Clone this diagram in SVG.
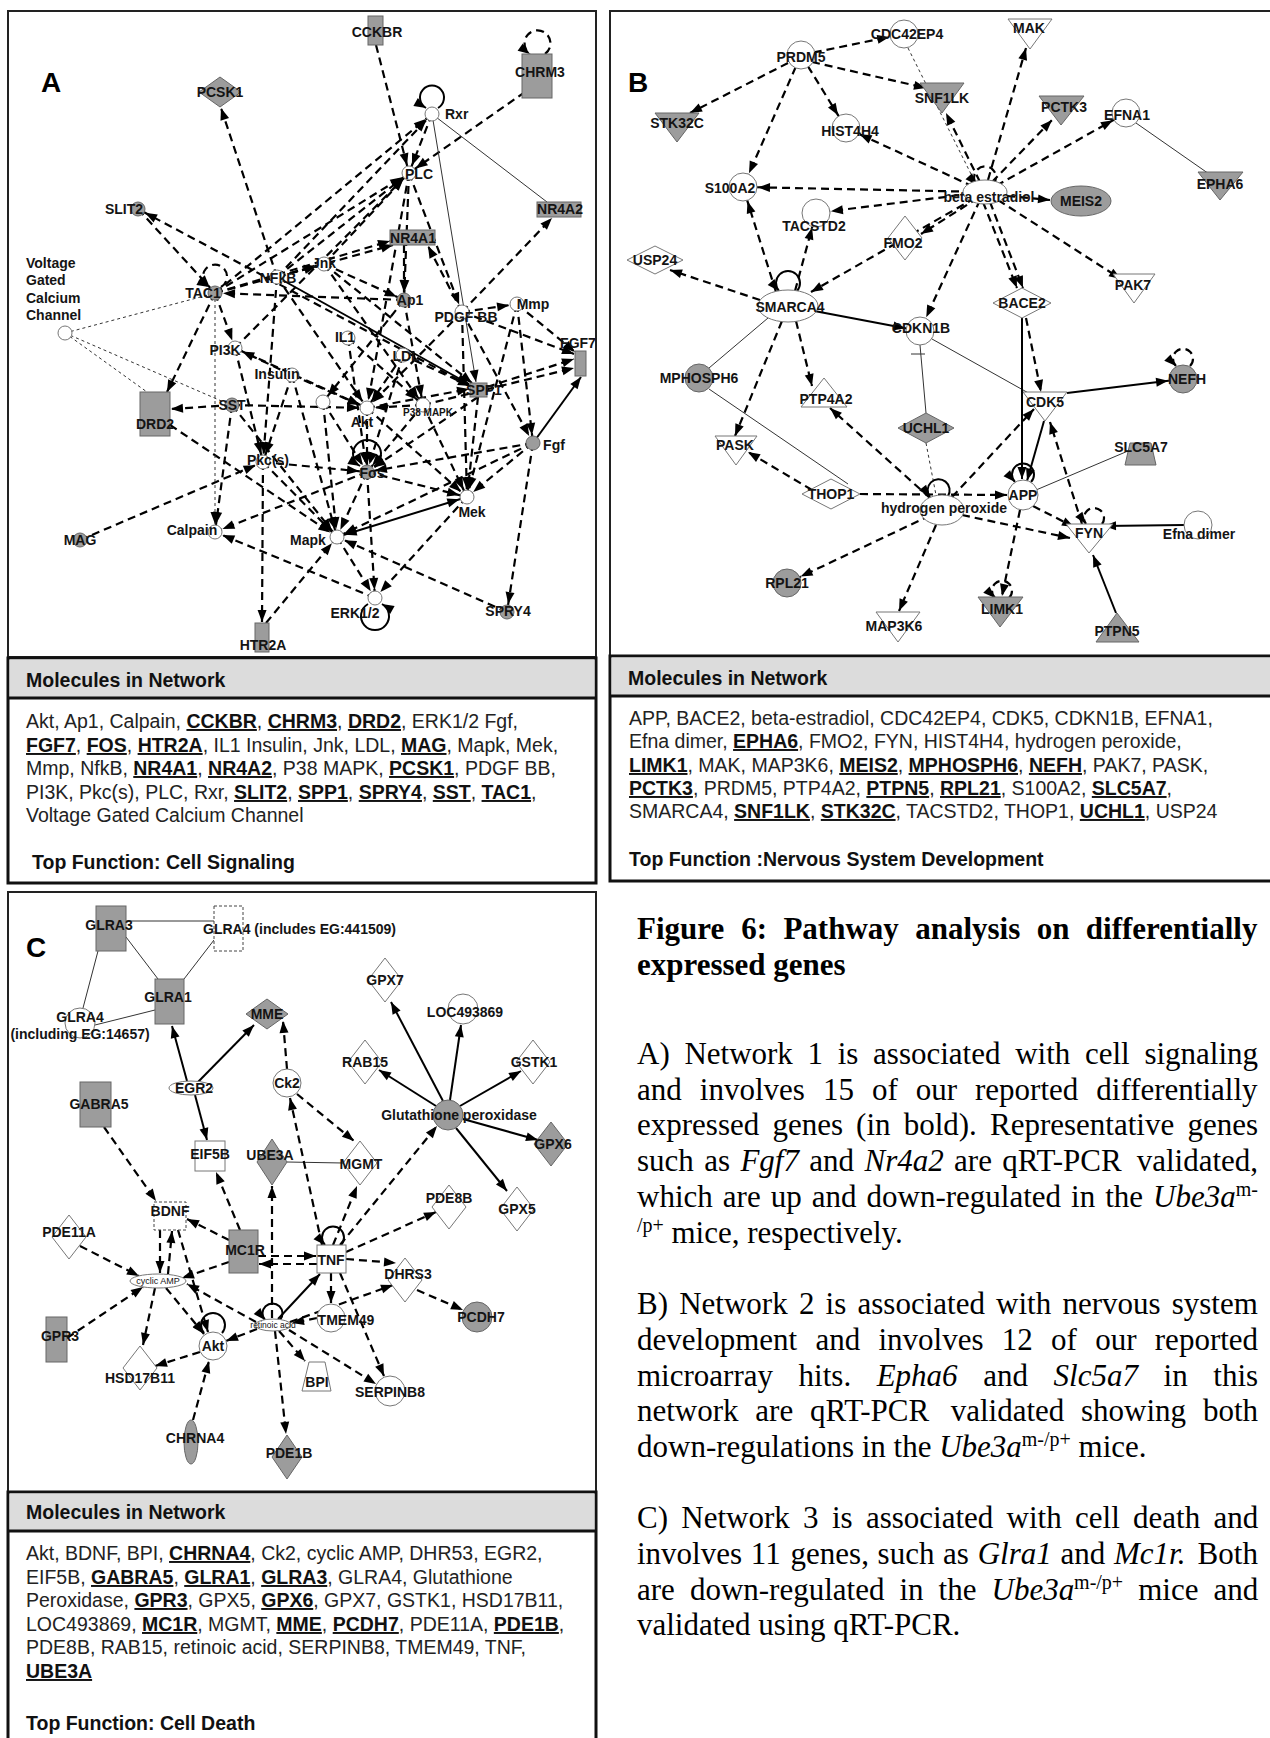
<svg xmlns="http://www.w3.org/2000/svg" width="1270" height="1738" viewBox="0 0 1270 1738">
<style>
.d{fill:none;stroke:#000;stroke-width:2.2;stroke-dasharray:8 5}
.s{fill:none;stroke:#000;stroke-width:2}
.t{fill:none;stroke:#333;stroke-width:1}
.q{fill:none;stroke:#333;stroke-width:1;stroke-dasharray:3 3}
.e1{marker-end:url(#a1)}
.e8{marker-end:url(#a8)}
.e15{marker-end:url(#a15)}
.b8{marker-start:url(#b8)}
.g{fill:#9c9c9c;stroke:#666;stroke-width:1}
.w{fill:#fff;stroke:#777;stroke-width:1}
.wd{fill:#fff;stroke:#444;stroke-width:1;stroke-dasharray:3 2}
.lb{font-family:"Liberation Sans",Arial,sans-serif;font-weight:bold;font-size:14px;fill:#141414;text-anchor:middle}
.ls{text-anchor:start}
.sm{font-size:9px;font-weight:normal}
.pl{font-family:"Liberation Sans",Arial,sans-serif;font-weight:bold;font-size:28px;fill:#000;text-anchor:middle}
.bx{font-family:"Liberation Sans",Arial,sans-serif;font-size:19.5px;fill:#222}
.bb{font-weight:bold;text-decoration:underline;fill:#111}
.hd{font-weight:bold;fill:#111}
.cap{font-family:"Liberation Serif","Times New Roman",serif;font-size:31px;fill:#000}
.sup{font-size:20px}
.it{font-style:italic}
.fr{fill:none;stroke:#222;stroke-width:2}
.fb{fill:#fff;stroke:#111;stroke-width:3}
.hg{fill:#dcdcdc;stroke:none}
</style>
<defs>
<marker id="a1" markerUnits="userSpaceOnUse" markerWidth="12" markerHeight="10" refX="12" refY="4.5" orient="auto" overflow="visible"><path d="M0,0 L12,4.5 L0,9 z" fill="#000"/></marker>
<marker id="a8" markerUnits="userSpaceOnUse" markerWidth="12" markerHeight="10" refX="20" refY="4.5" orient="auto" overflow="visible"><path d="M0,0 L12,4.5 L0,9 z" fill="#000"/></marker>
<marker id="a15" markerUnits="userSpaceOnUse" markerWidth="12" markerHeight="10" refX="27" refY="4.5" orient="auto" overflow="visible"><path d="M0,0 L12,4.5 L0,9 z" fill="#000"/></marker>
<marker id="b8" markerUnits="userSpaceOnUse" markerWidth="12" markerHeight="10" refX="20" refY="4.5" orient="auto-start-reverse" overflow="visible"><path d="M0,0 L12,4.5 L0,9 z" fill="#000"/></marker>
</defs>
<rect width="1270" height="1738" fill="#fff"/>

<g id="frames">
<rect class="fr" x="8" y="11" width="588" height="646"/>
<rect class="fr" x="610" y="11" width="680" height="645"/>
<rect class="fr" x="8" y="892" width="588" height="600"/>
</g>

<!-- ===== Panel A connectors ===== -->
<g id="connectors-A">
<line class="d e8" x1="376" y1="45" x2="409" y2="173"/>
<line class="d e8" x1="525" y1="92" x2="409" y2="173"/>
<line class="d e8" x1="215" y1="293" x2="432" y2="114"/>
<line class="d e8" x1="277" y1="277" x2="432" y2="114"/>
<line class="d e8" x1="432" y1="114" x2="409" y2="173"/>
<line class="d e8" x1="215" y1="293" x2="409" y2="173"/>
<line class="d e8" x1="277" y1="277" x2="409" y2="173"/>
<line class="d e8" x1="235" y1="348" x2="409" y2="173"/>
<line class="d e8" x1="324" y1="264" x2="409" y2="173"/>
<line class="d e8" x1="409" y1="173" x2="462" y2="312"/>
<line class="d e8" x1="409" y1="173" x2="404" y2="300"/>
<line class="d e8" x1="470" y1="386" x2="138" y2="209"/>
<line class="d e8" x1="138" y1="209" x2="215" y2="293"/>
<line class="d e8" x1="404" y1="245" x2="404" y2="300"/>
<line class="d e8" x1="324" y1="264" x2="404" y2="300"/>
<line class="d e8" x1="215" y1="293" x2="324" y2="264"/>
<line class="d e8" x1="277" y1="277" x2="324" y2="264"/>
<line class="d e8" x1="404" y1="300" x2="215" y2="293"/>
<line class="d e8" x1="215" y1="293" x2="235" y2="348"/>
<line class="d e8" x1="292" y1="375" x2="235" y2="348"/>
<line class="d e8" x1="232" y1="405" x2="367" y2="408"/>
<line class="d e8" x1="292" y1="375" x2="367" y2="408"/>
<line class="d e8" x1="235" y1="348" x2="367" y2="408"/>
<line class="d e8" x1="423" y1="405" x2="367" y2="408"/>
<line class="d e8" x1="403" y1="355" x2="367" y2="408"/>
<line class="d e8" x1="348" y1="338" x2="423" y2="405"/>
<line class="d e8" x1="462" y1="312" x2="533" y2="443"/>
<line class="d e8" x1="517" y1="304" x2="533" y2="443"/>
<line class="d e8" x1="533" y1="443" x2="367" y2="472"/>
<line class="d e8" x1="533" y1="443" x2="467" y2="497"/>
<line class="d e8" x1="533" y1="443" x2="337" y2="537"/>
<line class="d e8" x1="533" y1="443" x2="507" y2="612"/>
<line class="d e8" x1="478" y1="397" x2="467" y2="497"/>
<line class="d e8" x1="462" y1="312" x2="467" y2="497"/>
<line class="d e8" x1="367" y1="408" x2="367" y2="472"/>
<line class="d e8" x1="423" y1="405" x2="367" y2="472"/>
<line class="d e8" x1="323" y1="402" x2="367" y2="472"/>
<line class="d e8" x1="403" y1="355" x2="367" y2="472"/>
<line class="d e8" x1="263" y1="462" x2="367" y2="472"/>
<line class="d e8" x1="367" y1="472" x2="467" y2="497"/>
<line class="d e8" x1="367" y1="472" x2="337" y2="537"/>
<line class="d e8" x1="367" y1="472" x2="375" y2="598"/>
<line class="d e8" x1="367" y1="472" x2="215" y2="532"/>
<line class="d e8" x1="467" y1="497" x2="375" y2="598"/>
<line class="d e8" x1="337" y1="537" x2="375" y2="598"/>
<line class="d e8" x1="375" y1="598" x2="215" y2="532"/>
<line class="d e8" x1="507" y1="612" x2="337" y2="537"/>
<line class="d e8" x1="266" y1="623" x2="337" y2="537"/>
<line class="d e8" x1="80" y1="540" x2="263" y2="462"/>
<line class="d e8" x1="263" y1="462" x2="337" y2="537"/>
<line class="d e8" x1="292" y1="375" x2="263" y2="462"/>
<line class="d e8" x1="235" y1="348" x2="263" y2="462"/>
<line class="d e8" x1="462" y1="312" x2="517" y2="304"/>
<line class="d e8" x1="324" y1="264" x2="423" y2="405"/>
<line class="d e8" x1="348" y1="338" x2="367" y2="472"/>
<line class="d e8" x1="423" y1="405" x2="467" y2="497"/>
<line class="d e8" x1="367" y1="408" x2="467" y2="497"/>
<line class="d e8" x1="323" y1="402" x2="337" y2="537"/>
<line class="d e8" x1="232" y1="405" x2="215" y2="532"/>
<line class="d e8" x1="277" y1="277" x2="367" y2="408"/>
<line class="d e8" x1="409" y1="173" x2="367" y2="408"/>
<line class="d e8" x1="462" y1="312" x2="367" y2="408"/>
<line class="d e8" x1="292" y1="375" x2="337" y2="537"/>
<line class="d e8" x1="478" y1="397" x2="367" y2="472"/>
<line class="d e8" x1="517" y1="304" x2="467" y2="497"/>
<line class="d e8" x1="404" y1="300" x2="423" y2="405"/>
<line class="d e8" x1="277" y1="277" x2="263" y2="462"/>
<line class="d e8" x1="404" y1="300" x2="323" y2="402"/>
<line class="d e8" x1="170" y1="425" x2="337" y2="537"/>
<line class="d e8" x1="232" y1="405" x2="337" y2="537"/>
<line class="d e1" x1="277" y1="277" x2="221" y2="108"/>
<line class="d e1" x1="215" y1="293" x2="390" y2="241"/>
<line class="d e1" x1="277" y1="277" x2="393" y2="245"/>
<line class="d e1" x1="462" y1="312" x2="552" y2="218"/>
<line class="d e1" x1="462" y1="312" x2="428" y2="246"/>
<line class="d e1" x1="215" y1="293" x2="167" y2="392"/>
<line class="d e1" x1="232" y1="405" x2="171" y2="409"/>
<line class="d e1" x1="367" y1="408" x2="469" y2="389"/>
<line class="d e1" x1="324" y1="264" x2="472" y2="383"/>
<line class="d e1" x1="403" y1="355" x2="470" y2="386"/>
<line class="d e1" x1="487" y1="387" x2="574" y2="359"/>
<line class="d e1" x1="462" y1="312" x2="574" y2="354"/>
<line class="d e1" x1="517" y1="304" x2="575" y2="352"/>
<line class="d e1" x1="423" y1="405" x2="574" y2="368"/>
<line class="d e1" x1="263" y1="462" x2="262" y2="622"/>
<line class="q e8" x1="215" y1="293" x2="215" y2="532"/>
<line class="t" x1="432" y1="114" x2="547" y2="202"/>
<line class="t e1" x1="432" y1="114" x2="476" y2="382"/>
<line class="s e1" x1="277" y1="277" x2="469" y2="384"/>
<line class="s e1" x1="533" y1="443" x2="581" y2="377"/>
<line class="s e8 b8" x1="337" y1="537" x2="467" y2="497"/>
<line class="q" x1="65" y1="333" x2="208" y2="295"/>
<line class="q" x1="65" y1="333" x2="147" y2="392"/>
<line class="q" x1="65" y1="333" x2="226" y2="403"/>
<path class="d e1" d="M545,54 A13 13 0 1 0 530,54"/>
<path class="s e1" d="M438,108 A12 12 0 1 0 426,108"/>
<path class="d e1" d="M221,287 A12 12 0 1 0 209,287"/>
<path class="s e1" d="M374,466 A14 14 0 1 0 360,466"/>
<path class="s e1" d="M368,604 A14 14 0 1 0 382,604"/>
</g>

<!-- ===== Panel A nodes ===== -->
<g id="nodes-A">
<text class="pl" x="51" y="92">A</text>
<g id="A-CCKBR"><rect class="g" x="368" y="16" width="15" height="29"/><text class="lb" x="377" y="37">CCKBR</text></g>
<g id="A-CHRM3"><rect class="g" x="522" y="54" width="30" height="44"/><text class="lb" x="540" y="77">CHRM3</text></g>
<g id="A-PCSK1"><polygon class="g" points="220,77 241,92 220,107 199,92"/><text class="lb" x="220" y="97">PCSK1</text></g>
<g id="A-Rxr"><circle class="w" cx="432" cy="114" r="7"/><text class="lb ls" x="445" y="119">Rxr</text></g>
<g id="A-PLC"><circle class="w" cx="409" cy="173" r="7"/><text class="lb" x="419" y="179">PLC</text></g>
<g id="A-SLIT2"><circle class="g" cx="138" cy="209" r="7"/><text class="lb" x="124" y="214">SLIT2</text></g>
<g id="A-NR4A2"><rect class="g" x="537" y="202" width="44" height="15"/><text class="lb" x="560" y="214">NR4A2</text></g>
<g id="A-NR4A1"><rect class="g" x="390" y="230" width="45" height="15"/><text class="lb" x="413" y="243">NR4A1</text></g>
<g id="A-Jnk"><circle class="w" cx="324" cy="264" r="7"/><text class="lb" x="324" y="268">Jnk</text></g>
<g id="A-NfkB"><circle class="w" cx="277" cy="277" r="7"/><text class="lb" x="278" y="283">NFkB</text></g>
<g id="A-TAC1"><circle class="g" cx="215" cy="293" r="7"/><text class="lb" x="203" y="298">TAC1</text></g>
<g id="A-Ap1"><circle class="g" cx="404" cy="300" r="7"/><text class="lb" x="410" y="305">Ap1</text></g>
<g id="A-PDGFBB"><circle class="w" cx="462" cy="312" r="7"/><text class="lb" x="466" y="322">PDGF BB</text></g>
<g id="A-Mmp"><circle class="w" cx="517" cy="304" r="7"/><text class="lb" x="533" y="309">Mmp</text></g>
<g id="A-VGCC"><circle class="w" cx="65" cy="333" r="7"/><text class="lb ls" x="26" y="268">Voltage</text><text class="lb ls" x="26" y="285">Gated</text><text class="lb ls" x="26" y="303">Calcium</text><text class="lb ls" x="26" y="320">Channel</text></g>
<g id="A-FGF7"><rect class="g" x="575" y="351" width="11" height="25"/><text class="lb" x="578" y="348">FGF7</text></g>
<g id="A-PI3K"><circle class="w" cx="235" cy="348" r="7"/><text class="lb" x="225" y="355">PI3K</text></g>
<g id="A-IL1"><circle class="w" cx="348" cy="338" r="7"/><text class="lb" x="345" y="342">IL1</text></g>
<g id="A-LDL"><circle class="w" cx="403" cy="355" r="7"/><text class="lb" x="406" y="361">LDL</text></g>
<g id="A-Insulin"><circle class="w" cx="292" cy="375" r="7"/><text class="lb" x="277" y="379">Insulin</text></g>
<g id="A-SPP1"><rect class="g" x="470" y="383" width="17" height="14"/><text class="lb" x="484" y="395">SPP1</text></g>
<g id="A-DRD2"><rect class="g" x="140" y="392" width="30" height="44"/><text class="lb" x="155" y="429">DRD2</text></g>
<g id="A-SST"><circle class="g" cx="232" cy="405" r="7"/><text class="lb" x="232" y="410">SST</text></g>
<g id="A-node"><circle class="w" cx="323" cy="402" r="7"/></g>
<g id="A-Akt"><circle class="w" cx="367" cy="408" r="7"/><text class="lb" x="362" y="427">Akt</text></g>
<g id="A-P38MAPK"><circle class="w" cx="423" cy="405" r="7"/><text class="lb" x="428" y="416" style="font-size:10px">P38 MAPK</text></g>
<g id="A-Fgf"><circle class="g" cx="533" cy="443" r="7"/><text class="lb" x="554" y="450">Fgf</text></g>
<g id="A-Pkcs"><circle class="w" cx="263" cy="462" r="7"/><text class="lb" x="268" y="465">Pkc(s)</text></g>
<g id="A-Fos"><circle class="g" cx="367" cy="472" r="7"/><text class="lb" x="372" y="478">Fos</text></g>
<g id="A-Mek"><circle class="w" cx="467" cy="497" r="7"/><text class="lb" x="472" y="517">Mek</text></g>
<g id="A-MAG"><circle class="g" cx="80" cy="540" r="7"/><text class="lb" x="80" y="545">MAG</text></g>
<g id="A-Calpain"><circle class="w" cx="215" cy="532" r="7"/><text class="lb" x="192" y="535">Calpain</text></g>
<g id="A-Mapk"><circle class="w" cx="337" cy="537" r="7"/><text class="lb" x="308" y="545">Mapk</text></g>
<g id="A-ERK12"><circle class="w" cx="375" cy="598" r="7"/><text class="lb" x="355" y="618">ERK1/2</text></g>
<g id="A-SPRY4"><circle class="g" cx="507" cy="612" r="7"/><text class="lb" x="508" y="616">SPRY4</text></g>
<g id="A-HTR2A"><rect class="g" x="255" y="623" width="14" height="29"/><text class="lb" x="263" y="650">HTR2A</text></g>
</g>

<!-- ===== Panel B connectors ===== -->
<g id="connectors-B">
<line class="d e15" x1="801" y1="55" x2="904" y2="34"/>
<line class="d e1" x1="812" y1="62" x2="926" y2="88"/>
<line class="d e1" x1="788" y1="63" x2="690" y2="113"/>
<line class="d e15" x1="801" y1="55" x2="846" y2="128"/>
<line class="d e15" x1="801" y1="55" x2="743" y2="187"/>
<line class="q" x1="908" y1="48" x2="975" y2="182"/>
<line class="d e1" x1="988" y1="180" x2="1026" y2="48"/>
<line class="d e1" x1="980" y1="182" x2="946" y2="113"/>
<line class="d e1" x1="992" y1="182" x2="1052" y2="120"/>
<line class="d e15" x1="985" y1="192" x2="1126" y2="113"/>
<line class="t" x1="1136" y1="123" x2="1212" y2="176"/>
<line class="d e15" x1="985" y1="192" x2="846" y2="128"/>
<line class="d e15" x1="985" y1="192" x2="743" y2="187"/>
<line class="d e15" x1="985" y1="192" x2="816" y2="213"/>
<line class="d e1" x1="978" y1="198" x2="921" y2="234"/>
<line class="d e1" x1="1007" y1="196" x2="1050" y2="200"/>
<line class="d e1" x1="998" y1="200" x2="1121" y2="279"/>
<line class="d e1" x1="983" y1="202" x2="1017" y2="288"/>
<line class="d e1" x1="990" y1="202" x2="1023" y2="288"/>
<line class="d e15" x1="980" y1="200" x2="920" y2="331"/>
<line class="d e1" x1="975" y1="198" x2="811" y2="292"/>
<line class="d e15" x1="776" y1="292" x2="743" y2="187"/>
<line class="d e15" x1="795" y1="291" x2="816" y2="213"/>
<line class="d e1" x1="760" y1="300" x2="670" y2="270"/>
<line class="d e1" x1="782" y1="321" x2="735" y2="436"/>
<line class="d e1" x1="796" y1="321" x2="812" y2="386"/>
<line class="d e1" x1="1026" y1="318" x2="1041" y2="392"/>
<line class="d e1" x1="952" y1="497" x2="1034" y2="409"/>
<line class="d e1" x1="1082" y1="524" x2="1050" y2="422"/>
<line class="d e1" x1="812" y1="490" x2="748" y2="452"/>
<line class="d e1" x1="930" y1="498" x2="830" y2="408"/>
<line class="q" x1="926" y1="443" x2="936" y2="495"/>
<line class="d e1" x1="860" y1="494" x2="1007" y2="495"/>
<line class="d e15" x1="942" y1="510" x2="787" y2="583"/>
<line class="d e1" x1="936" y1="525" x2="899" y2="611"/>
<line class="d e1" x1="962" y1="515" x2="1070" y2="538"/>
<line class="d e1" x1="1033" y1="506" x2="1074" y2="527"/>
<line class="d e1" x1="1020" y1="510" x2="1002" y2="596"/>
<line class="s e15" x1="788" y1="306" x2="920" y2="331"/>
<line class="t" x1="768" y1="318" x2="709" y2="368"/>
<line class="t" x1="920" y1="345" x2="926" y2="413"/>
<line class="t" x1="911" y1="354" x2="925" y2="354"/>
<line class="t" x1="932" y1="339" x2="1032" y2="395"/>
<line class="s e1" x1="1022" y1="318" x2="1022" y2="479"/>
<line class="s e15" x1="1067" y1="393" x2="1183" y2="379"/>
<line class="s e15" x1="1044" y1="421" x2="1023" y2="495"/>
<line class="t" x1="709" y1="389" x2="848" y2="484"/>
<line class="t" x1="1036" y1="490" x2="1128" y2="451"/>
<line class="s e1" x1="1184" y1="525" x2="1104" y2="526"/>
<line class="s e1" x1="1116" y1="613" x2="1093" y2="555"/>
<path class="d e1" d="M993,185 A11 11 0 1 0 977,185"/>
<path class="s e1" d="M797,291 A12 12 0 1 0 779,291"/>
<path class="d e1" d="M1190,366 A10 10 0 1 0 1176,366"/>
<path class="s e1" d="M948,496 A11 11 0 1 0 930,497"/>
<path class="s e1" d="M1031,482 A11 11 0 1 0 1015,482"/>
<path class="d e1" d="M1102,524 A10 10 0 1 0 1086,524"/>
<path class="d e1" d="M1009,598 A10 10 0 1 0 995,598"/>
</g>

<!-- ===== Panel B nodes ===== -->
<g id="nodes-B">
<text class="pl" x="638" y="92">B</text>
<g id="B-PRDM5"><circle class="w" cx="801" cy="55" r="14"/><text class="lb" x="801" y="62">PRDM5</text></g>
<g id="B-CDC42EP4"><circle class="w" cx="904" cy="34" r="14"/><text class="lb" x="907" y="39">CDC42EP4</text></g>
<g id="B-MAK"><polygon class="w" points="1008,19 1052,19 1030,49"/><text class="lb" x="1029" y="33">MAK</text></g>
<g id="B-SNF1LK"><polygon class="g" points="920,83 964,83 942,113"/><text class="lb" x="942" y="103">SNF1LK</text></g>
<g id="B-PCTK3"><polygon class="g" points="1039,96 1084,96 1061,125"/><text class="lb" x="1064" y="112">PCTK3</text></g>
<g id="B-EFNA1"><circle class="w" cx="1126" cy="113" r="14"/><text class="lb" x="1127" y="120">EFNA1</text></g>
<g id="B-EPHA6"><polygon class="g" points="1198,172 1243,172 1220,200"/><text class="lb" x="1220" y="189">EPHA6</text></g>
<g id="B-STK32C"><polygon class="g" points="655,113 699,113 677,142"/><text class="lb" x="677" y="128">STK32C</text></g>
<g id="B-HIST4H4"><circle class="w" cx="846" cy="128" r="14"/><text class="lb" x="850" y="136">HIST4H4</text></g>
<g id="B-S100A2"><circle class="w" cx="743" cy="187" r="14"/><text class="lb" x="730" y="193">S100A2</text></g>
<g id="B-betaestradiol"><ellipse class="w" cx="985" cy="192" rx="22" ry="12"/><text class="lb" x="989" y="202">beta estradiol</text></g>
<g id="B-MEIS2"><ellipse class="g" cx="1081" cy="201" rx="30" ry="15"/><text class="lb" x="1081" y="206">MEIS2</text></g>
<g id="B-TACSTD2"><circle class="w" cx="816" cy="213" r="14"/><text class="lb" x="814" y="231">TACSTD2</text></g>
<g id="B-FMO2"><polygon class="w" points="905,216 922,238 905,260 888,238"/><text class="lb" x="903" y="248">FMO2</text></g>
<g id="B-USP24"><polygon class="w" points="655,246 683,260 655,274 627,260"/><text class="lb" x="655" y="265">USP24</text></g>
<g id="B-PAK7"><polygon class="w" points="1113,274 1155,274 1134,303"/><text class="lb" x="1133" y="290">PAK7</text></g>
<g id="B-BACE2"><polygon class="w" points="1022,288 1051,303 1022,318 993,303"/><text class="lb" x="1022" y="308">BACE2</text></g>
<g id="B-SMARCA4"><ellipse class="w" cx="788" cy="306" rx="30" ry="16"/><text class="lb" x="790" y="312">SMARCA4</text></g>
<g id="B-CDKN1B"><circle class="w" cx="920" cy="331" r="14"/><text class="lb" x="921" y="333">CDKN1B</text></g>
<g id="B-MPHOSPH6"><circle class="g" cx="699" cy="378" r="14"/><text class="lb" x="699" y="383">MPHOSPH6</text></g>
<g id="B-PTP4A2"><polygon class="w" points="801,407 847,407 824,378"/><text class="lb" x="826" y="404">PTP4A2</text></g>
<g id="B-UCHL1"><polygon class="g" points="926,413 954,428 926,443 898,428"/><text class="lb" x="926" y="433">UCHL1</text></g>
<g id="B-CDK5"><polygon class="w" points="1023,392 1067,392 1045,421"/><text class="lb" x="1045" y="407">CDK5</text></g>
<g id="B-NEFH"><circle class="g" cx="1183" cy="379" r="14"/><text class="lb" x="1187" y="384">NEFH</text></g>
<g id="B-PASK"><polygon class="w" points="715,436 757,436 736,465"/><text class="lb" x="735" y="450">PASK</text></g>
<g id="B-SLC5A7"><polygon class="g" points="1130,443 1151,443 1156,465 1125,465"/><text class="lb" x="1141" y="452">SLC5A7</text></g>
<g id="B-THOP1"><polygon class="w" points="831,479 860,494 831,509 802,494"/><text class="lb" x="831" y="499">THOP1</text></g>
<g id="B-hydrogenperoxide"><ellipse class="w" cx="942" cy="510" rx="22" ry="15"/><text class="lb" x="944" y="513">hydrogen peroxide</text></g>
<g id="B-APP"><circle class="w" cx="1023" cy="495" r="15"/><text class="lb" x="1023" y="500">APP</text></g>
<g id="B-FYN"><polygon class="w" points="1066,524 1113,524 1089,553"/><text class="lb" x="1089" y="538">FYN</text></g>
<g id="B-Efnadimer"><circle class="w" cx="1198" cy="525" r="14"/><text class="lb" x="1199" y="539">Efna dimer</text></g>
<g id="B-RPL21"><circle class="g" cx="787" cy="583" r="14"/><text class="lb" x="787" y="588">RPL21</text></g>
<g id="B-MAP3K6"><polygon class="w" points="876,612 920,612 898,642"/><text class="lb" x="894" y="631">MAP3K6</text></g>
<g id="B-LIMK1"><polygon class="g" points="978,597 1023,597 1000,627"/><text class="lb" x="1002" y="614">LIMK1</text></g>
<g id="B-PTPN5"><polygon class="g" points="1096,642 1139,642 1117,613"/><text class="lb" x="1117" y="636">PTPN5</text></g>
</g>

<!-- ===== Panel C connectors ===== -->
<g id="connectors-C">
<line class="t" x1="126" y1="921" x2="214" y2="921"/>
<line class="t" x1="126" y1="937" x2="158" y2="979"/>
<line class="t" x1="214" y1="940" x2="184" y2="979"/>
<line class="t" x1="98" y1="951" x2="83" y2="1008"/>
<line class="t" x1="95" y1="1025" x2="155" y2="1010"/>
<line class="s e1" x1="187" y1="1081" x2="172" y2="1026"/>
<line class="s e1" x1="198" y1="1082" x2="254" y2="1025"/>
<line class="s e1" x1="195" y1="1095" x2="207" y2="1140"/>
<line class="d e1" x1="287" y1="1069" x2="283" y2="1021"/>
<line class="d e1" x1="297" y1="1094" x2="354" y2="1141"/>
<line class="t" x1="287" y1="1162" x2="343" y2="1163"/>
<line class="s e1" x1="443" y1="1101" x2="391" y2="1002"/>
<line class="s e1" x1="450" y1="1100" x2="461" y2="1025"/>
<line class="s e1" x1="436" y1="1106" x2="379" y2="1070"/>
<line class="s e1" x1="460" y1="1106" x2="521" y2="1071"/>
<line class="s e1" x1="463" y1="1119" x2="538" y2="1140"/>
<line class="s e1" x1="456" y1="1128" x2="507" y2="1191"/>
<line class="d e1" x1="340" y1="1245" x2="437" y2="1126"/>
<line class="d e1" x1="104" y1="1127" x2="156" y2="1201"/>
<line class="d e1" x1="240" y1="1230" x2="216" y2="1172"/>
<line class="d e1" x1="272" y1="1318" x2="272" y2="1186"/>
<line class="d e1" x1="322" y1="1245" x2="290" y2="1098"/>
<line class="d e1" x1="333" y1="1245" x2="357" y2="1186"/>
<line class="d e1" x1="346" y1="1252" x2="436" y2="1212"/>
<line class="d e1" x1="346" y1="1259" x2="396" y2="1263"/>
<line class="d e1" x1="258" y1="1256" x2="316" y2="1256"/>
<line class="d e1" x1="317" y1="1264" x2="259" y2="1264"/>
<line class="d e1" x1="229" y1="1240" x2="187" y2="1219"/>
<line class="d e1" x1="331" y1="1273" x2="331" y2="1303"/>
<line class="d e1" x1="340" y1="1273" x2="384" y2="1376"/>
<line class="s e1" x1="278" y1="1319" x2="320" y2="1274"/>
<line class="d e1" x1="417" y1="1290" x2="463" y2="1310"/>
<line class="d e1" x1="290" y1="1322" x2="393" y2="1285"/>
<line class="d e1" x1="317" y1="1318" x2="292" y2="1323"/>
<line class="d e1" x1="257" y1="1329" x2="226" y2="1341"/>
<line class="d e1" x1="279" y1="1331" x2="305" y2="1361"/>
<line class="d e1" x1="289" y1="1330" x2="376" y2="1384"/>
<line class="d e1" x1="275" y1="1331" x2="286" y2="1434"/>
<line class="d e1" x1="256" y1="1322" x2="187" y2="1284"/>
<line class="d e1" x1="80" y1="1246" x2="139" y2="1276"/>
<line class="d e1" x1="67" y1="1338" x2="143" y2="1287"/>
<line class="d e1" x1="155" y1="1288" x2="143" y2="1345"/>
<line class="d e1" x1="166" y1="1288" x2="204" y2="1334"/>
<line class="d e1" x1="160" y1="1230" x2="160" y2="1273"/>
<line class="d e1" x1="168" y1="1274" x2="172" y2="1231"/>
<line class="d e1" x1="229" y1="1262" x2="182" y2="1278"/>
<line class="d e1" x1="178" y1="1230" x2="208" y2="1332"/>
<line class="d e1" x1="200" y1="1352" x2="155" y2="1366"/>
<line class="d e1" x1="193" y1="1420" x2="209" y2="1361"/>
<path class="s e1" d="M341,1245 A11 11 0 1 0 325,1245"/>
<path class="s e1" d="M222,1333 A12 12 0 1 0 204,1333"/>
<path class="s e1" d="M280,1320 A10 10 0 1 0 265,1320"/>
</g>

<!-- ===== Panel C nodes ===== -->
<g id="nodes-C">
<text class="pl" x="36" y="957">C</text>
<g id="C-GLRA3"><rect class="g" x="96" y="906" width="30" height="45"/><text class="lb" x="109" y="930">GLRA3</text></g>
<g id="C-GLRA4a"><rect class="wd" x="214" y="906" width="29" height="45"/><text class="lb ls" x="203" y="934">GLRA4 (includes EG:441509)</text></g>
<g id="C-GLRA1"><rect class="g" x="155" y="979" width="29" height="45"/><text class="lb" x="168" y="1002">GLRA1</text></g>
<g id="C-GLRA4b"><circle class="w" cx="80" cy="1023" r="15"/><text class="lb" x="80" y="1022">GLRA4</text><text class="lb" x="80" y="1039">(including EG:14657)</text></g>
<g id="C-MME"><polygon class="g" points="267,999 288,1014 267,1029 246,1014"/><text class="lb" x="267" y="1019">MME</text></g>
<g id="C-GPX7"><polygon class="w" points="385,958 402,980 385,1002 368,980"/><text class="lb" x="385" y="985">GPX7</text></g>
<g id="C-LOC493869"><circle class="w" cx="463" cy="1009" r="15"/><text class="lb" x="465" y="1017">LOC493869</text></g>
<g id="C-RAB15"><polygon class="w" points="365,1040 382,1062 365,1084 348,1062"/><text class="lb" x="365" y="1067">RAB15</text></g>
<g id="C-GSTK1"><polygon class="w" points="533,1040 550,1062 533,1084 516,1062"/><text class="lb" x="534" y="1067">GSTK1</text></g>
<g id="C-EGR2"><ellipse class="w" cx="191" cy="1088" rx="22" ry="7"/><text class="lb" x="194" y="1093">EGR2</text></g>
<g id="C-Ck2"><circle class="w" cx="287" cy="1083" r="14"/><text class="lb" x="287" y="1088">Ck2</text></g>
<g id="C-GABRA5"><rect class="g" x="80" y="1082" width="31" height="45"/><text class="lb" x="99" y="1109">GABRA5</text></g>
<g id="C-GlutathionePeroxidase"><circle class="g" cx="448" cy="1115" r="15"/><text class="lb" x="459" y="1120">Glutathione peroxidase</text></g>
<g id="C-GPX6"><polygon class="g" points="551,1122 568,1144 551,1166 534,1144"/><text class="lb" x="553" y="1149">GPX6</text></g>
<g id="C-EIF5B"><rect class="w" x="195" y="1141" width="30" height="30"/><text class="lb" x="210" y="1159">EIF5B</text></g>
<g id="C-UBE3A"><polygon class="g" points="272,1139 287,1162 272,1185 257,1162"/><text class="lb" x="270" y="1160">UBE3A</text></g>
<g id="C-MGMT"><polygon class="w" points="360,1141 377,1163 360,1185 343,1163"/><text class="lb" x="361" y="1169">MGMT</text></g>
<g id="C-PDE8B"><polygon class="w" points="449,1185 466,1207 449,1229 432,1207"/><text class="lb" x="449" y="1203">PDE8B</text></g>
<g id="C-GPX5"><polygon class="w" points="517,1187 534,1209 517,1231 500,1209"/><text class="lb" x="517" y="1214">GPX5</text></g>
<g id="C-BDNF"><rect class="wd" x="154" y="1202" width="32" height="28"/><text class="lb" x="170" y="1216">BDNF</text></g>
<g id="C-PDE11A"><polygon class="w" points="69,1215 86,1237 69,1259 52,1237"/><text class="lb" x="69" y="1237">PDE11A</text></g>
<g id="C-MC1R"><rect class="g" x="229" y="1230" width="29" height="43"/><text class="lb" x="245" y="1255">MC1R</text></g>
<g id="C-TNF"><rect class="w" x="317" y="1245" width="29" height="28"/><text class="lb" x="331" y="1265">TNF</text></g>
<g id="C-DHRS3"><polygon class="w" points="405,1258 422,1280 405,1302 388,1280"/><text class="lb" x="408" y="1279">DHRS3</text></g>
<g id="C-cyclicAMP"><ellipse class="w" cx="158" cy="1281" rx="28" ry="7"/><text class="lb sm" x="158" y="1284">cyclic AMP</text></g>
<g id="C-PCDH7"><circle class="g" cx="477" cy="1317" r="15"/><text class="lb" x="481" y="1322">PCDH7</text></g>
<g id="C-TMEM49"><circle class="w" cx="331" cy="1318" r="14"/><text class="lb" x="346" y="1325">TMEM49</text></g>
<g id="C-retinoicacid"><ellipse class="w" cx="273" cy="1325" rx="18" ry="6"/><text class="lb sm" x="273" y="1328" style="font-size:8.5px">retinoic acid</text></g>
<g id="C-Akt"><circle class="w" cx="213" cy="1346" r="14"/><text class="lb" x="213" y="1351">Akt</text></g>
<g id="C-GPR3"><rect class="g" x="46" y="1317" width="21" height="45"/><text class="lb" x="60" y="1341">GPR3</text></g>
<g id="C-HSD17B11"><polygon class="w" points="140,1346 157,1368 140,1390 123,1368"/><text class="lb" x="140" y="1383">HSD17B11</text></g>
<g id="C-BPI"><polygon class="w" points="309,1362 325,1362 331,1391 302,1391"/><text class="lb" x="317" y="1387">BPI</text></g>
<g id="C-SERPINB8"><circle class="w" cx="390" cy="1391" r="15"/><text class="lb" x="390" y="1397">SERPINB8</text></g>
<g id="C-CHRNA4"><ellipse class="g" cx="191" cy="1442" rx="7" ry="22"/><text class="lb" x="195" y="1443">CHRNA4</text></g>
<g id="C-PDE1B"><polygon class="g" points="287,1435 302,1457 287,1479 272,1457"/><text class="lb" x="289" y="1458">PDE1B</text></g>
</g>

<!-- ===== Molecule boxes ===== -->
<g id="box-A">
<rect class="fb" x="8" y="658" width="588" height="225"/>
<rect class="hg" x="9.5" y="659.5" width="585" height="38"/>
<line x1="8" y1="698" x2="596" y2="698" stroke="#111" stroke-width="3"/>
<text class="bx hd" x="26" y="687">Molecules in Network</text>
<text class="bx" x="26" y="728">Akt, Ap1, Calpain, <tspan class="bb">CCKBR</tspan>, <tspan class="bb">CHRM3</tspan>, <tspan class="bb">DRD2</tspan>, ERK1/2 Fgf,</text>
<text class="bx" x="26" y="752"><tspan class="bb">FGF7</tspan>, <tspan class="bb">FOS</tspan>, <tspan class="bb">HTR2A</tspan>, IL1 Insulin, Jnk, LDL, <tspan class="bb">MAG</tspan>, Mapk, Mek,</text>
<text class="bx" x="26" y="775">Mmp, NfkB, <tspan class="bb">NR4A1</tspan>, <tspan class="bb">NR4A2</tspan>, P38 MAPK, <tspan class="bb">PCSK1</tspan>, PDGF BB,</text>
<text class="bx" x="26" y="799">PI3K, Pkc(s), PLC, Rxr, <tspan class="bb">SLIT2</tspan>, <tspan class="bb">SPP1</tspan>, <tspan class="bb">SPRY4</tspan>, <tspan class="bb">SST</tspan>, <tspan class="bb">TAC1</tspan>,</text>
<text class="bx" x="26" y="822">Voltage Gated Calcium Channel</text>
<text class="bx hd" x="32" y="869">Top Function: Cell Signaling</text>
</g>
<g id="box-B">
<rect class="fb" x="610" y="656" width="680" height="225"/>
<rect class="hg" x="611.5" y="657.5" width="677" height="38"/>
<line x1="610" y1="696" x2="1290" y2="696" stroke="#111" stroke-width="3"/>
<text class="bx hd" x="628" y="685">Molecules in Network</text>
<text class="bx" x="629" y="725">APP, BACE2, beta-estradiol, CDC42EP4, CDK5, CDKN1B, EFNA1,</text>
<text class="bx" x="629" y="748">Efna dimer, <tspan class="bb">EPHA6</tspan>, FMO2, FYN, HIST4H4, hydrogen peroxide,</text>
<text class="bx" x="629" y="772"><tspan class="bb">LIMK1</tspan>, MAK, MAP3K6, <tspan class="bb">MEIS2</tspan>, <tspan class="bb">MPHOSPH6</tspan>, <tspan class="bb">NEFH</tspan>, PAK7, PASK,</text>
<text class="bx" x="629" y="795"><tspan class="bb">PCTK3</tspan>, PRDM5, PTP4A2, <tspan class="bb">PTPN5</tspan>, <tspan class="bb">RPL21</tspan>, S100A2, <tspan class="bb">SLC5A7</tspan>,</text>
<text class="bx" x="629" y="818">SMARCA4, <tspan class="bb">SNF1LK</tspan>, <tspan class="bb">STK32C</tspan>, TACSTD2, THOP1, <tspan class="bb">UCHL1</tspan>, USP24</text>
<text class="bx hd" x="629" y="866">Top Function :Nervous System Development</text>
</g>
<g id="box-C">
<rect class="fb" x="8" y="1492" width="588" height="260"/>
<rect class="hg" x="9.5" y="1493.5" width="585" height="37"/>
<line x1="8" y1="1531" x2="596" y2="1531" stroke="#111" stroke-width="3"/>
<text class="bx hd" x="26" y="1519">Molecules in Network</text>
<text class="bx" x="26" y="1560">Akt, BDNF, BPI, <tspan class="bb">CHRNA4</tspan>, Ck2, cyclic AMP, DHR53, EGR2,</text>
<text class="bx" x="26" y="1584">EIF5B, <tspan class="bb">GABRA5</tspan>, <tspan class="bb">GLRA1</tspan>, <tspan class="bb">GLRA3</tspan>, GLRA4, Glutathione</text>
<text class="bx" x="26" y="1607">Peroxidase, <tspan class="bb">GPR3</tspan>, GPX5, <tspan class="bb">GPX6</tspan>, GPX7, GSTK1, HSD17B11,</text>
<text class="bx" x="26" y="1631">LOC493869, <tspan class="bb">MC1R</tspan>, MGMT, <tspan class="bb">MME</tspan>, <tspan class="bb">PCDH7</tspan>, PDE11A, <tspan class="bb">PDE1B</tspan>,</text>
<text class="bx" x="26" y="1654">PDE8B, RAB15, retinoic acid, SERPINB8, TMEM49, TNF,</text>
<text class="bx" x="26" y="1678"><tspan class="bb">UBE3A</tspan></text>
<text class="bx hd" x="26" y="1730">Top Function: Cell Death</text>
</g>

<!-- ===== Caption ===== -->
<g id="caption">
<text class="cap" y="939" font-weight="bold"><tspan x="637">Figure</tspan><tspan x="741.2">6:</tspan><tspan x="783.4">Pathway</tspan><tspan x="915.2">analysis</tspan><tspan x="1036.7">on</tspan><tspan x="1085.8">differentially</tspan></text>
<text class="cap" x="637" y="975" font-weight="bold">expressed genes</text>

<text class="cap" y="1064"><tspan x="637">A)</tspan><tspan x="684.4">Network</tspan><tspan x="807.5">1</tspan><tspan x="837.7">is</tspan><tspan x="873.1">associated</tspan><tspan x="1015.2">with</tspan><tspan x="1084.9">cell</tspan><tspan x="1144.4">signaling</tspan></text>
<text class="cap" y="1100"><tspan x="637">and</tspan><tspan x="699.8">involves</tspan><tspan x="822.9">15</tspan><tspan x="871.9">of</tspan><tspan x="915.7">our</tspan><tspan x="975">reported</tspan><tspan x="1096.3">differentially</tspan></text>
<text class="cap" y="1135"><tspan x="637">expressed</tspan><tspan x="772.4">genes</tspan><tspan x="856.1">(in</tspan><tspan x="903.7">bold).</tspan><tspan x="990">Representative</tspan><tspan x="1187.4">genes</tspan></text>
<text class="cap" y="1171"><tspan x="637">such</tspan><tspan x="704.2">as</tspan><tspan x="740.4" class="it">Fgf7</tspan><tspan x="809.3">and</tspan><tspan x="864.5" class="it">Nr4a2</tspan><tspan x="954.1">are</tspan><tspan x="1002.3">qRT-PCR</tspan><tspan x="1136.7">validated,</tspan></text>
<text class="cap" y="1207"><tspan x="637">which</tspan><tspan x="722.8">are</tspan><tspan x="770.7">up</tspan><tspan x="811.7">and</tspan><tspan x="866.5">down-regulated</tspan><tspan x="1071.1">in</tspan><tspan x="1105.2">the</tspan><tspan x="1153.1" class="it">Ube3a</tspan></text>
<text class="cap sup" x="1235.7" y="1196">m-</text>
<text class="cap sup" x="637" y="1232">/p+</text>
<text class="cap" x="671.5" y="1243">mice, respectively.</text>

<text class="cap" y="1314"><tspan x="637">B)</tspan><tspan x="679.2">Network</tspan><tspan x="798.9">2</tspan><tspan x="825.6">is</tspan><tspan x="857.5">associated</tspan><tspan x="996.1">with</tspan><tspan x="1062.4">nervous</tspan><tspan x="1171.7">system</tspan></text>
<text class="cap" y="1350"><tspan x="637">development</tspan><tspan x="815.4">and</tspan><tspan x="878.5">involves</tspan><tspan x="1001.8">12</tspan><tspan x="1051.1">of</tspan><tspan x="1095.2">our</tspan><tspan x="1154.8">reported</tspan></text>
<text class="cap" y="1386"><tspan x="637">microarray</tspan><tspan x="798.6">hits.</tspan><tspan x="876.7" class="it">Epha6</tspan><tspan x="983.2">and</tspan><tspan x="1053.6" class="it">Slc5a7</tspan><tspan x="1163.6">in</tspan><tspan x="1213.3">this</tspan></text>
<text class="cap" y="1421"><tspan x="637">network</tspan><tspan x="755.3">are</tspan><tspan x="809.9">qRT-PCR</tspan><tspan x="950.7">validated</tspan><tspan x="1081">showing</tspan><tspan x="1202.9">both</tspan></text>
<text class="cap" y="1457"><tspan x="637">down-regulations</tspan><tspan x="861.7">in</tspan><tspan x="893.6">the</tspan><tspan x="939.2" class="it">Ube3a</tspan><tspan x="1078.6">mice.</tspan></text>
<text class="cap sup" x="1021.8" y="1446">m-/p+</text>

<text class="cap" y="1528"><tspan x="637">C)</tspan><tspan x="681.3">Network</tspan><tspan x="803.1">3</tspan><tspan x="831.9">is</tspan><tspan x="865.9">associated</tspan><tspan x="1006.6">with</tspan><tspan x="1075">cell</tspan><tspan x="1133.1">death</tspan><tspan x="1213.5">and</tspan></text>
<text class="cap" y="1564"><tspan x="637">involves</tspan><tspan x="750.8">11</tspan><tspan x="790.6">genes,</tspan><tspan x="877.6">such</tspan><tspan x="943.1">as</tspan><tspan x="977.7" class="it">Glra1</tspan><tspan x="1060.5">and</tspan><tspan x="1114" class="it">Mc1r.</tspan><tspan x="1197.6">Both</tspan></text>
<text class="cap" y="1600"><tspan x="637">are</tspan><tspan x="689.9">down-regulated</tspan><tspan x="899.5">in</tspan><tspan x="938.6">the</tspan><tspan x="991.5" class="it">Ube3a</tspan><tspan x="1138.2">mice</tspan><tspan x="1213.5">and</tspan></text>
<text class="cap sup" x="1074.1" y="1589">m-/p+</text>
<text class="cap" x="637" y="1635">validated using qRT-PCR.</text>
</g>
</svg>
